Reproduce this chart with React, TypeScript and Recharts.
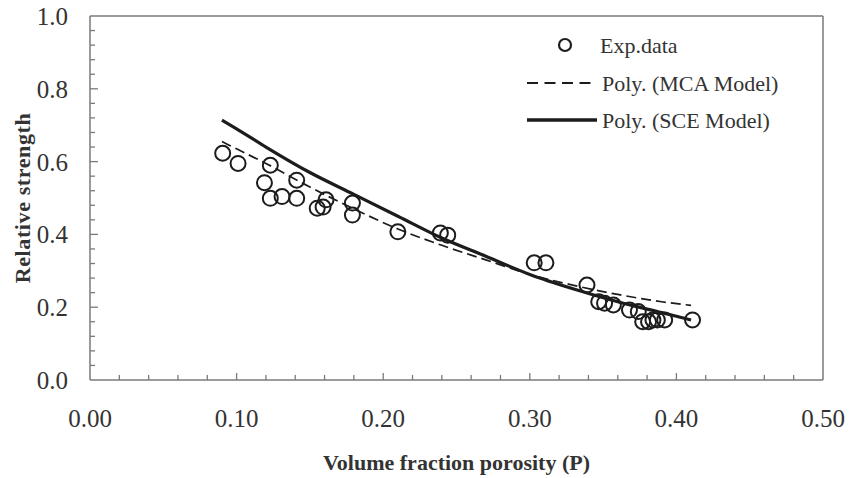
import {
  ComposedChart,
  Scatter,
  Line,
  XAxis,
  YAxis,
  ReferenceLine,
  Legend,
  Label,
} from 'recharts'

// experimental points
const expPorosity = [
  0.0905, 0.101, 0.119, 0.123, 0.123, 0.131, 0.141, 0.141, 0.155, 0.159,
  0.161, 0.179, 0.179, 0.21, 0.239, 0.244, 0.303, 0.311, 0.339, 0.347,
  0.351, 0.357, 0.368, 0.374, 0.377, 0.381, 0.384, 0.387, 0.392, 0.411,
]
const expStrength = [
  0.623, 0.595, 0.542, 0.59, 0.499, 0.504, 0.549, 0.499, 0.472, 0.475,
  0.495, 0.486, 0.453, 0.407, 0.404, 0.398, 0.322, 0.322, 0.261, 0.215,
  0.211, 0.206, 0.192, 0.188, 0.16, 0.16, 0.165, 0.165, 0.165, 0.165,
]

// fitted curves
const curvePorosity = [0.09, 0.1, 0.12, 0.15, 0.18, 0.21, 0.24, 0.27, 0.3, 0.33, 0.36, 0.39, 0.41]
const mcaStrength = [0.655, 0.635, 0.595, 0.53, 0.47, 0.415, 0.37, 0.33, 0.29, 0.26, 0.235, 0.215, 0.205]
const sceStrength = [0.714, 0.69, 0.64, 0.57, 0.51, 0.45, 0.39, 0.34, 0.29, 0.25, 0.215, 0.185, 0.165]

const xTicks = [
  0, 0.02, 0.04, 0.06, 0.08, 0.1, 0.12, 0.14, 0.16, 0.18, 0.2, 0.22, 0.24, 0.26,
  0.28, 0.3, 0.32, 0.34, 0.36, 0.38, 0.4, 0.42, 0.44, 0.46, 0.48, 0.5,
]
const yTicks = [
  0, 0.04, 0.08, 0.12, 0.16, 0.2, 0.24, 0.28, 0.32, 0.36, 0.4, 0.44, 0.48,
  0.52, 0.56, 0.6, 0.64, 0.68, 0.72, 0.76, 0.8, 0.84, 0.88, 0.92, 0.96, 1,
]

const expData = expPorosity.map((x, i) => ({ x, y: expStrength[i] }))
const mcaData = curvePorosity.map((x, i) => ({ x, y: mcaStrength[i] }))
const sceData = curvePorosity.map((x, i) => ({ x, y: sceStrength[i] }))

const FONT = '"Liberation Serif", "Times New Roman", serif'
const AXIS = '#7a7a7a'
const INK = '#1c1c1c'
const TEXT = '#333'
const X_MARGIN = 29
const Y_MARGIN = 22

const isMajor = (v: number) => Math.abs(v * 5 - Math.round(v * 5)) < 1e-6

function XTick({ x, y, payload }: any) {
  const v = payload.value as number
  const axisY = y - X_MARGIN
  const major = Math.abs(v * 10 - Math.round(v * 10)) < 1e-6
  const edge = v === 0 || v === 0.5
  return (
    <g>
      {!edge && (
        <line x1={x} x2={x} y1={axisY} y2={axisY - (major ? 7 : 5)} stroke={AXIS} strokeWidth={1.3} />
      )}
      {major && (
        <text x={x} y={y} dy="0.71em" textAnchor="middle" fontSize={25} fontFamily={FONT} fill={TEXT}>
          {v.toFixed(2)}
        </text>
      )}
    </g>
  )
}

function YTick({ x, y, payload }: any) {
  const v = payload.value as number
  const axisX = x + Y_MARGIN
  const major = isMajor(v)
  const edge = v === 0 || v === 1
  return (
    <g>
      {!edge && (
        <line x1={axisX} x2={axisX + (major ? 8 : 5)} y1={y} y2={y} stroke={AXIS} strokeWidth={1.3} />
      )}
      {major && (
        <text x={x} y={y} dy="0.36em" textAnchor="end" fontSize={25} fontFamily={FONT} fill={TEXT}>
          {v.toFixed(1)}
        </text>
      )}
    </g>
  )
}

const ExpDot = (props: any) => (
  <circle cx={props.cx} cy={props.cy} r={7.5} fill="none" stroke={INK} strokeWidth={2} />
)

function LegendBox() {
  return (
    <svg width={300} height={120} style={{ display: 'block' }}>
      <circle cx={49} cy={27} r={6} fill="none" stroke={INK} strokeWidth={2.2} />
      <text x={84} y={27} dy="0.35em" fontSize={22} fontFamily={FONT} fill={TEXT}>Exp.data</text>
      <line x1={11} x2={81} y1={65} y2={65} stroke={INK} strokeWidth={2} strokeDasharray="11 6.5" />
      <text x={86} y={65} dy="0.35em" fontSize={22} fontFamily={FONT} fill={TEXT}>Poly. (MCA Model)</text>
      <line x1={11} x2={81} y1={102} y2={102} stroke={INK} strokeWidth={3.4} />
      <text x={86} y={102} dy="0.35em" fontSize={22} fontFamily={FONT} fill={TEXT}>Poly. (SCE Model)</text>
    </svg>
  )
}

export default function App() {
  return (
    <>
      <style>{'svg.recharts-surface { overflow: visible; }'}</style>
      <ComposedChart width={845} height={470} margin={{ top: 8, right: 30, left: 0, bottom: 0 }}>
        <XAxis
          type="number"
          dataKey="x"
          domain={[0, 0.5]}
          ticks={xTicks}
          interval={0}
          tickLine={false}
          tickSize={0}
          tickMargin={X_MARGIN}
          tick={<XTick />}
          axisLine={{ stroke: AXIS, strokeWidth: 1.5 }}
          height={98}
        >
          <Label
            content={({ viewBox }: any) => (
              <text
                x={viewBox.x + viewBox.width / 2}
                y={viewBox.y + 90}
                textAnchor="middle"
                fontSize={22}
                fontWeight="bold"
                fontFamily={FONT}
                fill={TEXT}
              >
                Volume fraction porosity (P)
              </text>
            )}
          />
        </XAxis>
        <YAxis
          type="number"
          dataKey="y"
          domain={[0, 1]}
          ticks={yTicks}
          interval={0}
          tickLine={false}
          tickSize={0}
          tickMargin={Y_MARGIN}
          tick={<YTick />}
          axisLine={{ stroke: AXIS, strokeWidth: 1.5 }}
          width={82}
        >
          <Label
            content={({ viewBox }: any) => {
              const cx = viewBox.x + 14
              const cy = viewBox.y + viewBox.height / 2
              return (
                <text
                  x={cx}
                  y={cy}
                  transform={`rotate(-90 ${cx} ${cy})`}
                  dy="0.35em"
                  textAnchor="middle"
                  fontSize={22}
                  letterSpacing={0.6}
                  fontWeight="bold"
                  fontFamily={FONT}
                  fill={TEXT}
                >
                  Relative strength
                </text>
              )
            }}
          />
        </YAxis>
        <ReferenceLine y={1} stroke={AXIS} strokeWidth={1.5} />
        <ReferenceLine x={0.5} stroke={AXIS} strokeWidth={1.5} />
        <Legend
          layout="vertical"
          align="center"
          verticalAlign="middle"
          content={() => <LegendBox />}
          wrapperStyle={{ left: 508, top: 10, width: 300, height: 120 }}
        />
        <Line
          data={mcaData}
          dataKey="y"
          type="monotone"
          stroke={INK}
          strokeWidth={1.7}
          strokeDasharray="10 5"
          dot={false}
          isAnimationActive={false}
          name="Poly. (MCA Model)"
        />
        <Line
          data={sceData}
          dataKey="y"
          type="monotone"
          stroke={INK}
          strokeWidth={3.2}
          dot={false}
          isAnimationActive={false}
          name="Poly. (SCE Model)"
        />
        <Scatter data={expData} dataKey="y" shape={<ExpDot />} isAnimationActive={false} name="Exp.data" />
      </ComposedChart>
    </>
  )
}
